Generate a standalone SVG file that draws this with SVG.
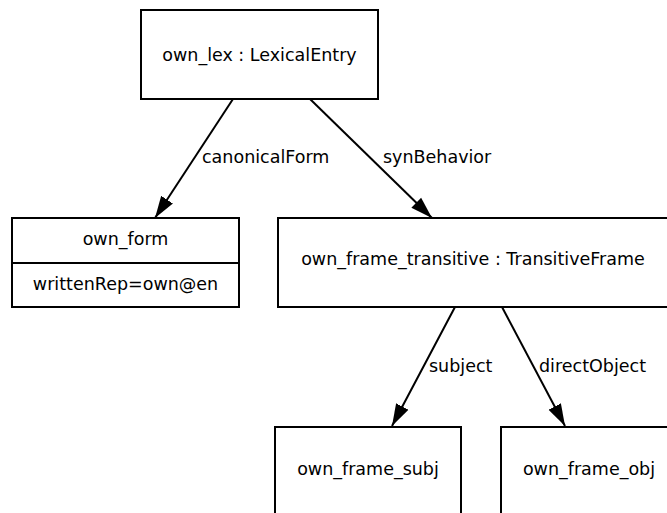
<svg xmlns="http://www.w3.org/2000/svg" width="667" height="513" viewBox="0 0 667 513">
<style>
.box{fill:#fff;stroke:#000;stroke-width:2}
.t{font-family:"DejaVu Sans",sans-serif;font-size:17.5px;fill:#000;text-anchor:middle}
.l{font-family:"DejaVu Sans",sans-serif;font-size:17.5px;fill:#000}
.e{stroke:#000;stroke-width:2;fill:none;marker-end:url(#ah)}
</style>
<defs>
<marker id="ah" markerUnits="userSpaceOnUse" markerWidth="22" markerHeight="16" refX="22" refY="8" orient="auto">
<path d="M0,1 L22,8 L0,15 z" fill="#000"/>
</marker>
</defs>
<rect width="667" height="513" fill="#fff"/>
<g id="connectors">
<line class="e" x1="233" y1="99" x2="155" y2="218"/>
<text class="l" x="202" y="163">canonicalForm</text>
<line class="e" x1="310" y1="99" x2="432" y2="218"/>
<text class="l" x="383" y="163">synBehavior</text>
<line class="e" x1="455" y1="307" x2="392" y2="426"/>
<text class="l" x="429" y="372">subject</text>
<line class="e" x1="502" y1="307" x2="565" y2="426"/>
<text class="l" x="539" y="372">directObject</text>
</g>
<g id="own_lex">
<rect class="box" x="141" y="10" width="237" height="89"/>
<text class="t" x="259.5" y="61">own_lex : LexicalEntry</text>
</g>
<g id="own_form">
<rect class="box" x="12" y="218" width="227" height="89"/>
<line x1="12" y1="263" x2="239" y2="263" stroke="#000" stroke-width="2"/>
<text class="t" x="125.5" y="245">own_form</text>
<text class="t" x="125.5" y="290">writtenRep=own@en</text>
</g>
<g id="own_frame_transitive">
<rect class="box" x="278" y="218" width="400" height="89"/>
<text class="t" x="473" y="265">own_frame_transitive : TransitiveFrame</text>
</g>
<g id="own_frame_subj">
<rect class="box" x="275" y="427" width="186" height="100"/>
<text class="t" x="368" y="475">own_frame_subj</text>
</g>
<g id="own_frame_obj">
<rect class="box" x="501" y="427" width="190" height="100"/>
<text class="t" x="589" y="475">own_frame_obj</text>
</g>
</svg>
